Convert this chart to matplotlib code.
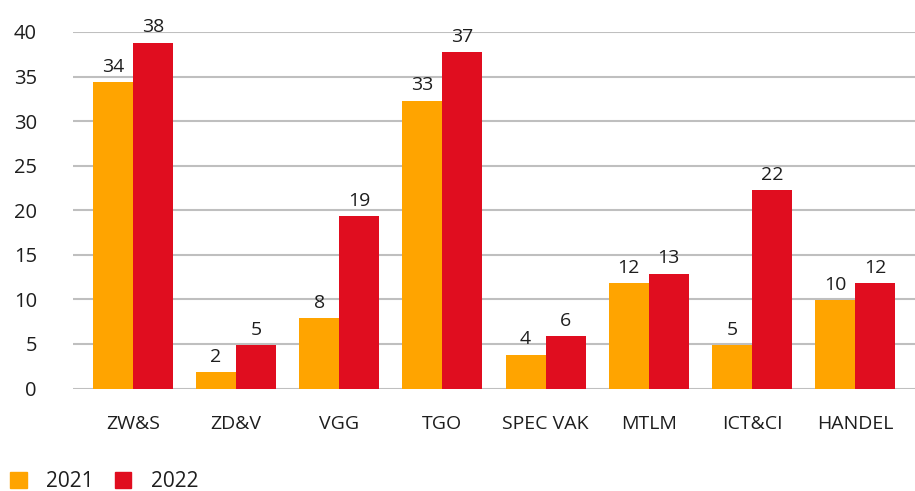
import numpy as np
import matplotlib.pyplot as plt
from matplotlib.patches import Patch

plt.rc('font', family=['Open Sans', 'DejaVu Sans'])

categories = ["ZW&S", "ZD&V", "VGG", "TGO", "SPEC VAK", "MTLM", "ICT&CI", "HANDEL"]
# bar heights
vals_2021 = [34.4, 1.85, 7.9, 32.3, 3.8, 11.8, 4.9, 9.9]
vals_2022 = [38.8, 4.9, 19.3, 37.7, 5.9, 12.9, 22.3, 11.8]
# value labels as printed on the chart
labels_2021 = ["34", "2", "8", "33", "4", "12", "5", "10"]
labels_2022 = ["38", "5", "19", "37", "6", "13", "22", "12"]
years = ["2021", "2022"]

orange = "#FFA400"
red = "#E00D1F"
txt = "#1E1E1E"

fig = plt.figure(figsize=(9.15, 4.91), dpi=100)
ax = fig.add_axes([73/915, (491-388.5)/491, 1 - 73/915, (388.5-32)/491])

x = np.arange(len(categories))
w = 0.388
b1 = ax.bar(x - w/2, vals_2021, w, color=orange, zorder=3)
b2 = ax.bar(x + w/2, vals_2022, w, color=red, zorder=3)

ax.bar_label(b1, labels=labels_2021, padding=4.5, fontsize=14, color=txt)
ax.bar_label(b2, labels=labels_2022, padding=4.5, fontsize=14, color=txt)

ax.set_ylim(0, 40)
ax.set_xlim(-0.58, len(categories) - 1 + 0.58)
ax.set_yticks(range(0, 41, 5))
ax.set_xticks(x)
ax.set_xticklabels(categories)
ax.tick_params(axis='y', length=0, pad=26, labelsize=14.5, labelcolor=txt)
ax.tick_params(axis='x', length=0, pad=19, labelsize=14, labelcolor=txt)
ax.yaxis.grid(True, color="#BFBFBF", linewidth=1.5, zorder=0)
for s in ax.spines.values():
    s.set_visible(False)

handles = [Patch(color=orange, label=years[0]), Patch(color=red, label=years[1])]
fig.legend(handles=handles, loc='lower left', bbox_to_anchor=(0.0, -0.024), ncol=2,
           frameon=False, fontsize=15, handlelength=0.78, handleheight=0.78,
           handletextpad=0.95, columnspacing=1.0, borderaxespad=0.1,
           labelcolor=txt)

plt.savefig("out.png", dpi=100)
